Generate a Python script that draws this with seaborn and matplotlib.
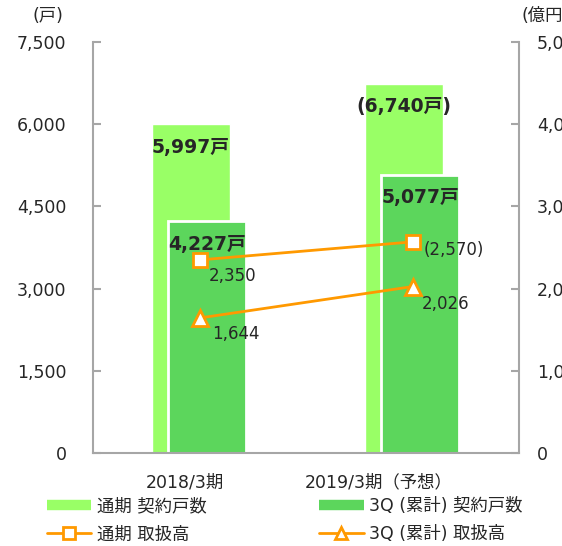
import numpy as np
import pandas as pd
import matplotlib
matplotlib.use('Agg')
import matplotlib.pyplot as plt
import seaborn as sns
from matplotlib.lines import Line2D

## dados do gráfico
categorias = ['2018/3期', '2019/3期（予想）']
contratos_ano = [5997, 6740]        # 通期 契約戸数
contratos_3q = [4227, 5077]         # 3Q (累計) 契約戸数
volume_ano = [2350, 2570]           # 通期 取扱高 (億円)
volume_3q = [1644, 2026]            # 3Q (累計) 取扱高 (億円)
rotulos_ano = ['5,997戸', '(6,740戸)']
rotulos_3q = ['4,227戸', '5,077戸']
rotulos_vol_ano = ['2,350', '(2,570)']
rotulos_vol_3q = ['1,644', '2,026']
legenda = ['通期 契約戸数', '3Q (累計) 契約戸数', '通期 取扱高', '3Q (累計) 取扱高']

verde_claro = '#99FF66'
verde_escuro = '#5CD65C'
laranja = '#FF9900'
cinza = '#A6A6A6'

sns.set_style('white')
plt.rcParams['font.family'] = ['DejaVu Sans', 'Noto Sans CJK JP']

pos = np.arange(len(categorias))
df = pd.DataFrame({'pos': pos, 'ano': contratos_ano, 'q3': contratos_3q,
                   'vol_ano': volume_ano, 'vol_q3': volume_3q})

fig = plt.figure(figsize=(5.62, 5.46), dpi=100)
ax = fig.add_axes([0.1655, 0.170, 0.758, 0.753])

## barras
sns.barplot(x=df['pos'] - 0.04, y=df['ano'], native_scale=True, width=0.37,
            color=verde_claro, saturation=1, ax=ax)
sns.barplot(x=df['pos'] + 0.035, y=df['q3'], native_scale=True, width=0.37,
            color=verde_escuro, saturation=1, edgecolor='white', linewidth=2, ax=ax)

ax.set_xlim(-0.5, 1.5)
ax.set_ylim(0, 7500)
ax.set_yticks(np.arange(0, 7501, 1500))
ax.set_yticklabels([f'{v:,}' for v in range(0, 7501, 1500)])
ax.set_xticks(pos)
ax.set_xticklabels([])
ax.set_xlabel('')
ax.set_ylabel('')
ax.tick_params(axis='y', direction='in', length=6, color=cinza, width=1.5,
               labelsize=12.5, pad=19, left=True)
ax.tick_params(axis='x', length=0)
for lado in ['left', 'bottom', 'right']:
    ax.spines[lado].set_color(cinza)
    ax.spines[lado].set_linewidth(1.5)
ax.spines['top'].set_visible(False)

## rótulos das categorias (deslocados como no original)
desloc_cat = [-15, -34]
for i in pos:
    ax.annotate(categorias[i], xy=(i, 0), xycoords=('data', 'axes fraction'),
                xytext=(desloc_cat[i], -29), textcoords='offset pixels',
                ha='center', va='center', fontsize=12.5)

for i in pos:
    ax.text(i - 0.04, contratos_ano[i] - 420, rotulos_ano[i], ha='center',
            va='center', fontsize=13.5, fontweight='bold')
    ax.text(i + 0.035, contratos_3q[i] - 420, rotulos_3q[i], ha='center',
            va='center', fontsize=13.5, fontweight='bold')

## linhas no eixo secundário
ax2 = ax.twinx()
sns.lineplot(x=df['pos'], y=df['vol_ano'], color=laranja, lw=2, marker='s',
             markersize=10, markerfacecolor='white', markeredgecolor=laranja,
             markeredgewidth=2, ax=ax2)
sns.lineplot(x=df['pos'], y=df['vol_q3'], color=laranja, lw=2, marker='^',
             markersize=11, markerfacecolor='white', markeredgecolor=laranja,
             markeredgewidth=2, ax=ax2)
ax2.set_ylim(0, 5000)
ax2.set_yticks(np.arange(0, 5001, 1000))
ax2.set_yticklabels([f'{v:,}' for v in range(0, 5001, 1000)])
ax2.set_ylabel('')
ax2.tick_params(axis='y', direction='in', length=6, color=cinza, width=1.5,
                labelsize=12.5, pad=13, right=True)
for lado in ax2.spines:
    ax2.spines[lado].set_visible(False)

desloc_ano = [(9, -16), (11, -8)]
desloc_3q = [(13, -16), (9, -17)]
for i in pos:
    ax2.annotate(rotulos_vol_ano[i], xy=(i, volume_ano[i]),
                 xytext=desloc_ano[i], textcoords='offset pixels',
                 ha='left', va='center', fontsize=12)
    ax2.annotate(rotulos_vol_3q[i], xy=(i, volume_3q[i]),
                 xytext=desloc_3q[i], textcoords='offset pixels',
                 ha='left', va='center', fontsize=12)

## unidades
fig.text(0.057, 0.970, '(戸)', fontsize=12.5, va='center')
fig.text(0.928, 0.970, '(億円)', fontsize=12.5, va='center')

## legenda
handles = [Line2D([], [], color=verde_claro, lw=7.5, solid_capstyle='butt'),
           Line2D([], [], color=laranja, lw=2, marker='s', markersize=9,
                  markerfacecolor='white', markeredgecolor=laranja, markeredgewidth=2),
           Line2D([], [], color=verde_escuro, lw=7.5, solid_capstyle='butt'),
           Line2D([], [], color=laranja, lw=2, marker='^', markersize=9,
                  markerfacecolor='white', markeredgecolor=laranja, markeredgewidth=2)]
labels = [legenda[0], legenda[2], legenda[1], legenda[3]]
fig.legend(handles, labels, loc='upper left', bbox_to_anchor=(0.084, 0.089),
           ncol=2, frameon=False, fontsize=12.5, handlelength=2.55,
           handletextpad=0.3, columnspacing=6.5, labelspacing=0.58,
           borderpad=0, borderaxespad=0)

plt.savefig('out.png', dpi=100)
